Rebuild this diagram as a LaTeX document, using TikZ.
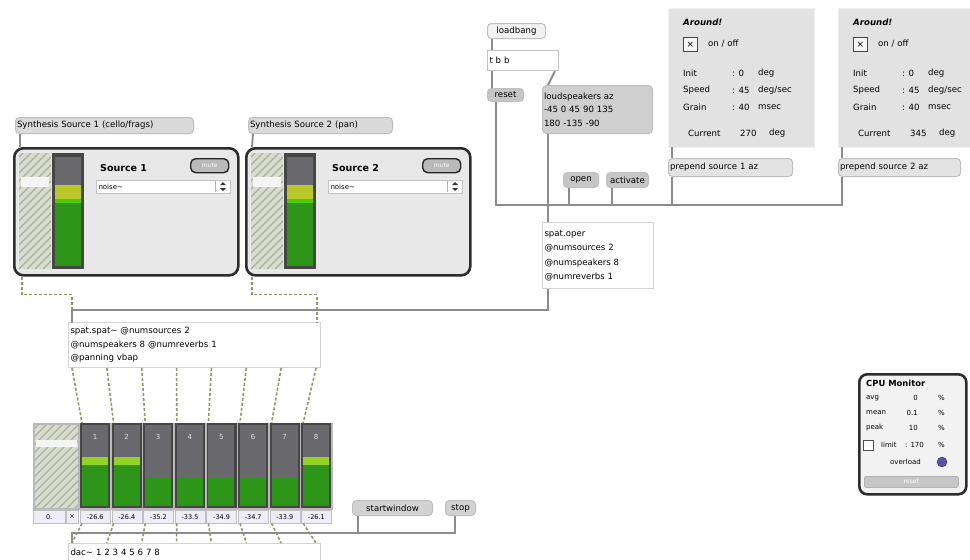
\documentclass[tikz,border=0pt]{standalone}
\usepackage{fontspec}
\setmainfont{DejaVu Sans}
\usetikzlibrary{patterns}
\definecolor{cordc}{RGB}{140,140,140}
\definecolor{sigc}{RGB}{150,150,105}
\definecolor{msgfill}{RGB}{218,218,218}
\definecolor{objline}{RGB}{195,195,195}
\definecolor{panelbg}{RGB}{232,232,232}
\definecolor{aroundbg}{RGB}{226,226,226}
\definecolor{meterdark}{RGB}{70,70,70}
\definecolor{metertop}{RGB}{105,105,110}
\definecolor{metgreen}{RGB}{45,150,25}
\definecolor{metyel}{RGB}{185,200,40}
\definecolor{hatchbg}{RGB}{215,220,205}
\definecolor{hatchln}{RGB}{170,175,160}
\definecolor{nbfill}{RGB}{238,236,246}
\newcommand{\hatchbox}[4]{%
  \begin{scope}
    \clip (#1,#2) rectangle (#3,#4);
    \fill[hatchbg] (#1,#2) rectangle (#3,#4);
    \foreach \k in {-160,-152,...,60} \draw[hatchln, line width=1.2pt] (#1+\k,#4) -- ++(160,-160);
  \end{scope}}
\begin{document}
\begin{tikzpicture}[x=1pt,y=-1pt,
  every node/.style={font=\fontsize{8.6}{13.5}\selectfont},
  obj/.style={draw=objline, fill=white, line width=1pt, anchor=north west, inner sep=2pt, align=left},
  msgbox/.style={draw=gray!50, fill=msgfill, rounded corners=4pt, line width=1pt, anchor=north west, inner sep=1.5pt, align=left},
  darkmsg/.style={msgbox, fill=gray!38},
  panel/.style={draw=gray!35!black, fill=panelbg, line width=2.6pt, rounded corners=9pt, anchor=north west, inner sep=0pt},
  apanel/.style={fill=aroundbg, draw=gray!12, anchor=north west, inner sep=0pt},
  btn/.style={draw=gray!30!black, fill=gray!55, line width=1.4pt, rounded corners=5pt, anchor=north west, inner sep=0pt, text=white, font=\fontsize{6}{7}\selectfont},
  lbl/.style={anchor=west, inner sep=0pt},
  meter/.style={fill=meterdark, anchor=north west, inner sep=0pt},
  nbox/.style={draw=gray!50, fill=nbfill, anchor=north west, inner sep=1pt, font=\fontsize{6.5}{7}\selectfont, minimum height=13pt},
  ctl/.style={draw=cordc, line width=1.8pt},
  sig/.style={draw=sigc, line width=1.6pt, dash pattern=on 3pt off 2pt}]
\useasboundingbox (0,0) rectangle (970,560);
\fill[white] (0,0) rectangle (970,560);

% ---------------- source panels ----------------
\node[msgbox, text width=175pt, minimum height=16pt] (m1) at (15,117) {Synthesis Source 1 (cello/frags)};
\node[msgbox, text width=141pt, minimum height=16pt] (m2) at (248,117) {Synthesis Source 2 (pan)};
\foreach \o/\n in {0/1,232/2}{
  \node[panel, minimum width=224pt, minimum height=127pt] (p\n) at (13+\o,147) {};
  \hatchbox{19+\o}{153}{51+\o}{269}
  \fill[white!92!gray] (21+\o,177) rectangle (49+\o,187);
  \fill[meterdark] (52+\o,153) rectangle (84+\o,269);
  \fill[metertop] (55+\o,157) rectangle (81+\o,185);
  \fill[metyel] (55+\o,185) rectangle (81+\o,199);
  \fill[green!60!yellow!80!black] (55+\o,199) rectangle (81+\o,203);
  \fill[metgreen] (55+\o,203) rectangle (81+\o,266);
  \node[lbl, font=\bfseries\fontsize{9.5}{12}\selectfont] (t\n) at (100+\o,168) {Source \n};
  \node[btn, minimum width=38pt, minimum height=14pt] (b\n) at (190+\o,158) {mute};
  \node[obj, text width=130pt, minimum height=13pt, font=\fontsize{7}{8}\selectfont] (u\n) at (96+\o,180) {noise\textasciitilde};
  \draw[gray!60] (215+\o,181) -- (215+\o,192);
  \fill[gray!40!black] (220+\o,185) -- (226+\o,185) -- (223+\o,182) -- cycle;
  \fill[gray!40!black] (220+\o,188) -- (226+\o,188) -- (223+\o,191) -- cycle;
}
\draw[ctl] ([xshift=5pt]m1.south west) -- ([xshift=7pt]p1.north west);
\draw[ctl] ([xshift=5pt]m2.south west) -- ([xshift=7pt]p2.north west);

% ---------------- spat ----------------
\node[obj, text width=248pt, minimum height=45pt, draw=gray!35] (spat) at (68,322)
  {spat.spat\textasciitilde\ @numsources 2\\ @numspeakers 8 @numreverbs 1\\ @panning vbap};

\draw[sig] ([xshift=9pt]p1.south west) -- ++(0,18) -| ([xshift=4pt]spat.north west);
\draw[sig] ([xshift=7pt]p2.south west) -- ++(0,18) -| ([xshift=-4pt]spat.north east);

% ---------------- meters ----------------
\fill[gray!55] (33,423) rectangle (333,510);
\hatchbox{35}{425}{78}{508}
\fill[white!92!gray] (36,440) rectangle (77,447);
\foreach \i in {0,...,7}{
  \pgfmathsetmacro\mx{80+31.6*\i}
  \node[meter, minimum width=30pt, minimum height=85pt] (mc\i) at (\mx,423) {};
  \fill[metertop] (\mx+2,425) rectangle (\mx+28,478);
  \pgfmathtruncatemacro\nn{\i+1}
  \node[font=\fontsize{7}{8}\selectfont, text=gray!25] (ml\i) at (\mx+15,437) {\nn};
  \fill[metgreen] (\mx+2,478) rectangle (\mx+28,506);
}
\foreach \i in {0,1,7}{
  \pgfmathsetmacro\mx{80+31.6*\i}
  \fill[metyel!80!green] (\mx+2,457) rectangle (\mx+28,465);
  \fill[metgreen] (\mx+2,465) rectangle (\mx+28,478);
}
\node[nbox, minimum width=32pt] (nb0l) at (33,510) {0.};
\node[nbox, minimum width=12pt] (nbx) at (66,510) {×};
\foreach \i/\v in {0/-26.6,1/-26.4,2/-35.2,3/-33.5,4/-34.9,5/-34.7,6/-33.9,7/-26.1}{
  \pgfmathsetmacro\mx{80+31.6*\i}
  \node[nbox, minimum width=30pt] (nb\i) at (\mx,510) {\v};
}

% ---------------- dac ----------------
\node[obj, text width=248pt, minimum height=17pt, draw=gray!35] (dac) at (68,543) {dac\textasciitilde\ 1 2 3 4 5 6 7 8};
\foreach \i in {0,...,7}{
  \pgfmathsetmacro\sx{4+34.86*\i}
  \draw[sig] ([xshift=\sx pt]spat.south west) -- ([xshift=2pt]mc\i.north west);
  \draw[sig] ([xshift=2pt]nb\i.south west) -- ([xshift=\sx pt]dac.north west);
}
\node[msgbox, minimum width=80pt, minimum height=15pt, fill=gray!35] (sw) at (352,500) {startwindow};
\node[msgbox, minimum width=30pt, minimum height=15pt, fill=gray!35] (stop) at (445,500) {stop};
\coordinate (dbus) at (72,533);
\draw[ctl, line width=1.3pt] ([xshift=6pt]sw.south west) |- (dbus) -- ([xshift=4pt]dac.north west);
\draw[ctl, line width=1.3pt] ([xshift=10pt]stop.south west) |- ([xshift=6pt]sw.south west |- dbus);

% ---------------- top right control ----------------
\node[msgbox, minimum width=58pt, minimum height=15pt, fill=gray!10] (lb) at (487,23) {loadbang};
\node[obj, text width=67pt, minimum height=20pt] (tbb) at (487,50) {t b b};
\node[msgbox, minimum width=36pt, minimum height=13pt, fill=gray!45] (reset) at (487,88) {reset};
\node[darkmsg, text width=107pt, minimum height=48pt] (ls) at (542,85) {loudspeakers az\\ -45 0 45 90 135\\ 180 -135 -90};
\node[msgbox, minimum width=35pt, minimum height=15pt, fill=gray!45] (open) at (563,172) {open};
\node[msgbox, minimum width=42pt, minimum height=15pt, fill=gray!45] (act) at (606,172) {activate};
\node[obj, text width=107pt, minimum height=66pt, draw=gray!35, font=\fontsize{8.6}{14.5}\selectfont] (oper) at (542,222) {spat.oper\\ @numsources 2\\ @numspeakers 8\\ @numreverbs 1};

\draw[ctl] ([xshift=5pt]lb.south west) -- ([xshift=5pt]tbb.north west);
\draw[ctl] ([xshift=5pt]tbb.south west) -- ([xshift=5pt]reset.north west);
\draw[ctl] ([xshift=-4pt]tbb.south east) -- ([xshift=6pt]ls.north west);
\coordinate (bus) at (548,205);
\draw[ctl] ([xshift=9pt]reset.south west) |- (bus);
\draw[ctl] ([xshift=6pt]ls.south west) -- ([xshift=6pt]oper.north west);
\draw[ctl] ([xshift=6pt]open.south west) |- (bus);
\draw[ctl] ([xshift=6pt]act.south west) |- (bus);
\draw[ctl] ([xshift=6pt]oper.south west) -- ++(0,21) -| ([xshift=4pt]spat.north west);

% ---------------- Around panels ----------------
\foreach \o/\n/\w/\c in {668/1/146/270,838/2/132/345}{
  \node[apanel, minimum width=\w pt, minimum height=139pt] (a\n) at (\o,8) {};
  \node[lbl, font=\bfseries\itshape\fontsize{8.6}{10}\selectfont] (at\n) at (\o+15,22) {Around!};
  \node[draw=gray!55!black, fill=gray!8, line width=0.8pt, minimum size=14pt, inner sep=0pt, anchor=north west, font=\fontsize{9}{9}\selectfont] (tg\n) at (\o+15,37) {×};
  \node[lbl] (oo\n) at (\o+40,44) {on / off};
  \node[lbl] (r1a\n) at (\o+15,73) {Init};
  \node[lbl] (r1b\n) at (\o+64,73) {: 0};
  \node[lbl] (r1c\n) at (\o+90,73) {deg};
  \node[lbl] (r2a\n) at (\o+15,90) {Speed};
  \node[lbl] (r2b\n) at (\o+64,90) {: 45};
  \node[lbl] (r2c\n) at (\o+90,90) {deg/sec};
  \node[lbl] (r3a\n) at (\o+15,107) {Grain};
  \node[lbl] (r3b\n) at (\o+64,107) {: 40};
  \node[lbl] (r3c\n) at (\o+90,107) {msec};
  \node[lbl] (cu\n) at (\o+20,133) {Current};
  \node[lbl] (cv\n) at (\o+72,133) {\c};
  \node[lbl] (cd\n) at (\o+101,133) {deg};
}
\node[msgbox, text width=121pt, minimum height=18pt, fill=gray!22] (pp1) at (668,158) {prepend source 1 az};
\node[msgbox, text width=119pt, minimum height=18pt, fill=gray!22] (pp2) at (838,158) {prepend source 2 az};
\draw[ctl, line width=1.2pt] ([xshift=4pt]a1.south west) -- ([xshift=4pt]pp1.north west);
\draw[ctl, line width=1.2pt] ([xshift=4pt]a2.south west) -- ([xshift=4pt]pp2.north west);
\draw[ctl] ([xshift=4pt]pp1.south west) |- (bus);
\draw[ctl] ([xshift=4pt]pp2.south west) |- (bus);

% ---------------- CPU monitor ----------------
\node[panel, minimum width=107pt, minimum height=120pt, fill=gray!10, rounded corners=8pt] (cpu) at (858,373) {};
\node[lbl, font=\bfseries\fontsize{8.4}{10}\selectfont] (cput) at (866,383) {CPU Monitor};
\foreach \y/\a/\v/\k in {398/avg/0/1,413/mean/0.1/2,428/peak/10/3}{
  \node[lbl, font=\fontsize{7}{8}\selectfont] (ca\k) at (866,\y) {\a};
  \node[anchor=east, inner sep=0pt, font=\fontsize{7}{8}\selectfont] (cv\k) at (918,\y) {\v};
  \node[lbl, font=\fontsize{7}{8}\selectfont] (cp\k) at (938,\y) {\%};
}
\node[draw=gray!60!black, fill=white, minimum size=10pt, inner sep=0pt] (lim) at (868,445) {};
\node[lbl, font=\fontsize{7}{8}\selectfont] (liml) at (881,445) {limit};
\node[lbl, font=\fontsize{7}{8}\selectfont] (limv) at (905,445) {: 170};
\node[lbl, font=\fontsize{7}{8}\selectfont] (limp) at (938,445) {\%};
\node[lbl, font=\fontsize{7}{8}\selectfont] (ovl) at (890,462) {overload};
\node[circle, fill=blue!35!gray, draw=gray!50!black, minimum size=10pt, inner sep=0pt] (led) at (942,462) {};
\node[btn, minimum width=94pt, minimum height=11pt, fill=gray!45, draw=gray!60, line width=0.8pt, rounded corners=2pt] (crst) at (864,476) {reset};
\end{tikzpicture}
\end{document}
